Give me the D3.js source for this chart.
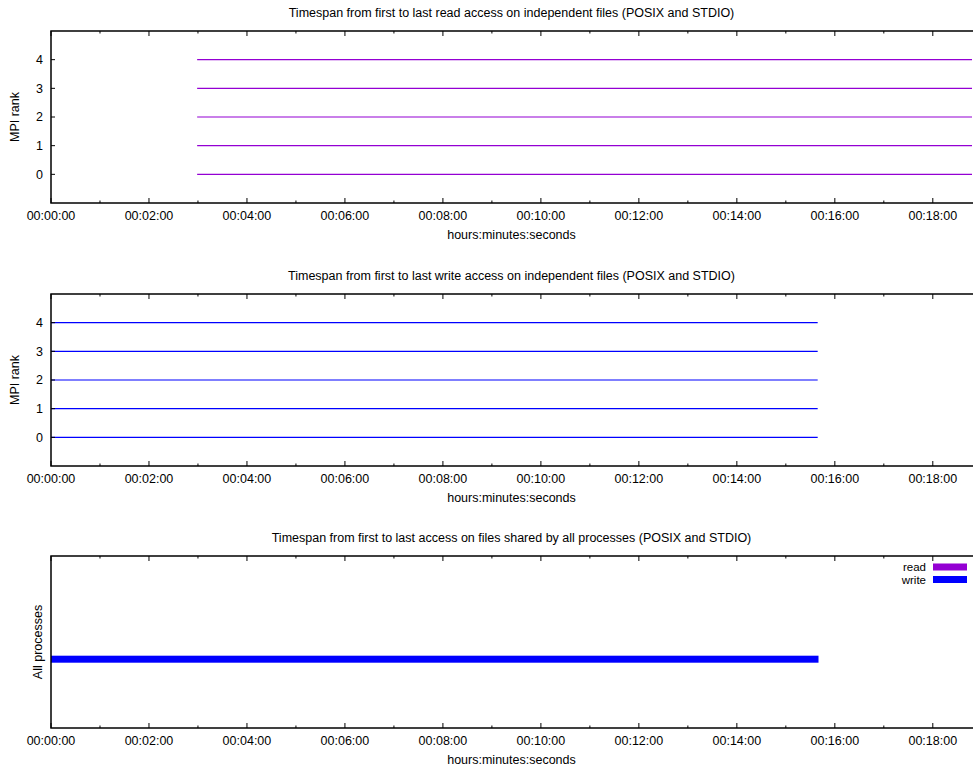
<!DOCTYPE html>
<html lang="en">
<head>
<meta charset="UTF-8" />
<script src="https://d3js.org/d3.v7.min.js"></script>
<title>Darshan timespans</title>
<style>
  body { margin: 0; background: #fff; }
  text { font-family: "Liberation Sans", Arial, sans-serif; fill: #000; font-size: 12.5px; }
</style>
</head>
<body>
<script>
  // values (seconds since job start)
  var ranks = [0, 1, 2, 3, 4];
  var readStart = [179, 179, 179, 179, 179];
  var readEnd = [1140, 1140, 1140, 1140, 1140];
  var writeStart = [0, 0, 0, 0, 0];
  var writeEnd = [939, 939, 939, 939, 939];
  var sharedKinds = ["read", "write"];
  var sharedStart = [null, 0];
  var sharedEnd = [null, 940];

  var titles = [
    "Timespan from first to last read access on independent files (POSIX and STDIO)",
    "Timespan from first to last write access on independent files (POSIX and STDIO)",
    "Timespan from first to last access on files shared by all processes (POSIX and STDIO)"
  ];
  var colors = { read: "#9400d3", write: "#0000ff" };

  var w = 973, h = 769;
  var left = 51, right = 972;
  var panelTops = [31, 294, 556];
  var panelH = 172;

  var svg = d3.select("body").append("svg")
    .attr("width", w)
    .attr("height", h);

  var x = d3.scaleLinear().domain([0, 1128]).range([left, right]);

  function fmt(s) {
    var hh = Math.floor(s / 3600), mm = Math.floor((s % 3600) / 60), ss = s % 60;
    return d3.format("02d")(hh) + ":" + d3.format("02d")(mm) + ":" + d3.format("02d")(ss);
  }

  var major = d3.range(0, 1129, 120);
  var minor = d3.range(60, 1129, 120);

  panelTops.forEach(function (top, i) {
    var bottom = top + panelH;
    var g = svg.append("g");
    var clipId = "clip" + i;
    svg.append("clipPath").attr("id", clipId)
      .append("rect").attr("x", left).attr("y", top).attr("width", right - left).attr("height", panelH);

    g.append("text")
      .attr("x", (left + right) / 2)
      .attr("y", top - 14)
      .attr("text-anchor", "middle")
      .text(titles[i]);

    // x ticks, mirrored top and bottom, pointing inwards
    major.forEach(function (t) {
      g.append("line").attr("x1", x(t)).attr("x2", x(t)).attr("y1", bottom).attr("y2", bottom - 5)
        .attr("stroke", "#000").attr("stroke-width", 1);
      g.append("line").attr("x1", x(t)).attr("x2", x(t)).attr("y1", top).attr("y2", top + 5)
        .attr("stroke", "#000").attr("stroke-width", 1);
      g.append("text").attr("x", x(t)).attr("y", bottom + 17)
        .attr("text-anchor", "middle").text(fmt(t));
    });
    minor.forEach(function (t) {
      g.append("line").attr("x1", x(t)).attr("x2", x(t)).attr("y1", bottom).attr("y2", bottom - 2.5)
        .attr("stroke", "#000").attr("stroke-width", 1);
      g.append("line").attr("x1", x(t)).attr("x2", x(t)).attr("y1", top).attr("y2", top + 2.5)
        .attr("stroke", "#000").attr("stroke-width", 1);
    });

    g.append("text")
      .attr("x", (left + right) / 2)
      .attr("y", bottom + 36)
      .attr("text-anchor", "middle")
      .text("hours:minutes:seconds");

    var marks = g.append("g").attr("clip-path", "url(#" + clipId + ")");

    if (i < 2) {
      var y = d3.scaleLinear().domain([-1, 5]).range([bottom, top]);
      ranks.forEach(function (r) {
        g.append("line").attr("x1", left).attr("x2", left + 4).attr("y1", y(r)).attr("y2", y(r))
          .attr("stroke", "#000").attr("stroke-width", 1);
        g.append("text").attr("x", left - 8).attr("y", y(r)).attr("dy", "0.35em")
          .attr("text-anchor", "end").text(r);
      });
      g.append("text")
        .attr("transform", "translate(19," + (top + panelH / 2) + ") rotate(-90)")
        .attr("text-anchor", "middle")
        .text("MPI rank");

      var s = i === 0 ? readStart : writeStart;
      var e = i === 0 ? readEnd : writeEnd;
      var c = i === 0 ? colors.read : colors.write;
      marks.selectAll("line.span")
        .data(ranks)
        .enter()
        .append("line")
        .attr("class", "span")
        .attr("x1", function (d, k) { return x(s[k]); })
        .attr("x2", function (d, k) { return x(e[k]); })
        .attr("y1", function (d) { return y(d); })
        .attr("y2", function (d) { return y(d); })
        .attr("stroke", c)
        .attr("stroke-width", 1.2);
    } else {
      var y3 = d3.scaleLinear().domain([0, 2]).range([bottom, top]);
      g.append("text")
        .attr("transform", "translate(42," + (top + panelH / 2) + ") rotate(-90)")
        .attr("text-anchor", "middle")
        .text("All processes");

      sharedKinds.forEach(function (k, j) {
        if (sharedStart[j] === null) return;
        marks.append("rect")
          .attr("x", x(sharedStart[j]))
          .attr("width", x(sharedEnd[j]) - x(sharedStart[j]))
          .attr("y", y3(0.8) - 3.5)
          .attr("height", 7)
          .attr("fill", colors[k]);
      });

      // legend
      sharedKinds.forEach(function (k, j) {
        var ly = top + 11 + j * 12.5;
        g.append("text").attr("x", 926).attr("y", ly).attr("dy", "0.35em")
          .attr("text-anchor", "end").style("font-size", "11.5px").text(k);
        g.append("rect").attr("x", 933).attr("y", ly - 3.5).attr("width", 34).attr("height", 7)
          .attr("fill", colors[k]);
      });
    }

    g.append("rect")
      .attr("x", left).attr("y", top)
      .attr("width", right - left + 3).attr("height", panelH)
      .attr("fill", "none")
      .attr("stroke", "#000")
      .attr("stroke-width", 1.5);
  });
</script>
</body>
</html>
